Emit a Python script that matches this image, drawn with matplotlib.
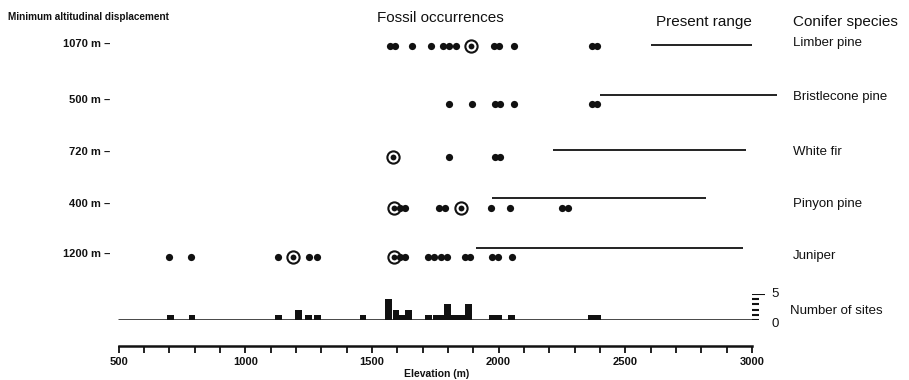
import matplotlib
matplotlib.use('Agg')
import matplotlib.pyplot as plt

plt.rcParams['font.family'] = ['Liberation Sans', 'DejaVu Sans']

# fossil occurrences (elevation, m) per conifer species
species = ['Limber pine', 'Bristlecone pine', 'White fir', 'Pinyon pine', 'Juniper']
displacement = ['1070 m', '500 m', '720 m', '400 m', '1200 m']

limber = [1570, 1590, 1660, 1735, 1780, 1805, 1830, 1980, 2000, 2060, 2370, 2390]
limber_circled = [1890]
bristlecone = [1805, 1895, 1985, 2005, 2060, 2370, 2390]
bristlecone_circled = []
white_fir = [1805, 1985, 2005]
white_fir_circled = [1585]
pinyon = [1610, 1630, 1765, 1790, 1970, 2045, 2250, 2272]
pinyon_circled = [1587, 1852]
juniper = [700, 785, 1130, 1250, 1283, 1610, 1630, 1720, 1746, 1773, 1797, 1866, 1889, 1974, 1998, 2053]
juniper_circled = [1187, 1587]

# present range (low, high) per species
range_low = [2600, 2400, 2215, 1975, 1910]
range_high = [3000, 3100, 2975, 2820, 2965]

# number of sites per elevation bin
site_bins = [705, 790, 1130, 1210, 1250, 1285, 1465, 1565, 1595, 1617, 1645,
             1725, 1755, 1775, 1798, 1825, 1855, 1882, 1975, 2000, 2050, 2365, 2390]
site_counts = [1, 1, 1, 2, 1, 1, 1, 4, 2, 1, 2,
               1, 1, 1, 3, 1, 1, 3, 1, 1, 1, 1, 1]
scale_ticks = [0, 1, 2, 3, 4, 5]

W, H = 909, 380
x500, x3000 = 118.5, 752.0
k = (x3000 - x500) / 2500
xmin = 500 - x500 / k
xmax = 500 + (W - x500) / k

ink = '#111111'


def fx(x):
    return x / W


def fy(y):
    return 1 - y / H


fig = plt.figure(figsize=(9.09, 3.8), dpi=100)
ax = fig.add_axes([0, 0, 1, 1])
ax.set_xlim(xmin, xmax)
ax.set_ylim(H, 0)
ax.axis('off')

rows = [(limber, limber_circled), (bristlecone, bristlecone_circled),
        (white_fir, white_fir_circled), (pinyon, pinyon_circled),
        (juniper, juniper_circled)]
row_y = [46, 104, 157, 208, 257]
range_y = [45, 95, 150, 198, 248]
label_y = [43, 97, 152, 204, 256]
disp_y = [44, 100, 152, 204, 254]

for i, (dots, circ) in enumerate(rows):
    y = row_y[i]
    if circ:
        ax.plot(circ, [y] * len(circ), 'o', ms=8.8, mfc='white', mec=ink, mew=1.5)
        ax.plot(circ, [y] * len(circ), 'o', ms=4.2, color=ink, mec='none')
    ax.plot(dots, [y] * len(dots), 'o', ms=5.2, color=ink, mec='none')
    ax.plot([range_low[i], range_high[i]], [range_y[i]] * 2, color=ink, lw=1.3,
            solid_capstyle='butt')
    fig.text(fx(793), fy(label_y[i]), species[i], fontsize=9.5, color=ink,
             va='center', ha='left')
    fig.text(fx(110), fy(disp_y[i]), displacement[i] + ' \u2013', fontsize=8,
             fontweight='bold', color=ink, va='center', ha='right')

# headers
fig.text(fx(8), fy(17), 'Minimum altitudinal displacement', fontsize=7.2,
         fontweight='bold', color=ink, va='center', ha='left')
fig.text(fx(440), fy(18), 'Fossil occurrences', fontsize=11, color=ink,
         va='center', ha='center')
fig.text(fx(704), fy(22), 'Present range', fontsize=11, color=ink,
         va='center', ha='center')
fig.text(fx(793), fy(22), 'Conifer species', fontsize=11, color=ink,
         va='center', ha='left')

# number of sites histogram
base_y = 320
unit = 5.2
axh = fig.add_axes([0, fy(base_y), 1, 5 * unit / H])
axh.set_xlim(xmin, xmax)
axh.set_ylim(0, 5)
axh.axis('off')
axh.bar(site_bins, site_counts, width=27, color=ink, align='center')
axh.hlines(0, 500, 3000, color=ink, lw=1.8)
axh.hlines(scale_ticks[:-1], 3000, 3028, color=ink, lw=1.5)
axh.hlines(scale_ticks[-1:], 3000, 3050, color=ink, lw=1.5)
fig.text(fx(771), fy(base_y - 5 * unit), '5', fontsize=9.5, color=ink,
         va='center', ha='left')
fig.text(fx(771), fy(base_y + 4), '0', fontsize=9.5, color=ink,
         va='center', ha='left')
fig.text(fx(790), fy(311), 'Number of sites', fontsize=9.5, color=ink,
         va='center', ha='left')

# elevation axis
axe = fig.add_axes([fx(x500), fy(346), (x3000 - x500) / W, 0.0001])
axe.set_xlim(500, 3000)
for s in ['left', 'right', 'top']:
    axe.spines[s].set_visible(False)
axe.spines['bottom'].set_linewidth(1.8)
axe.spines['bottom'].set_color(ink)
axe.set_yticks([])
axe.set_xticks(range(500, 3001, 500))
axe.set_xticks(range(500, 3001, 100), minor=True)
axe.tick_params(axis='x', which='both', length=5, width=1.3, color=ink,
                direction='out', pad=3)
axe.set_xticklabels([str(v) for v in range(500, 3001, 500)], fontsize=8,
                    fontweight='bold', color=ink)
fig.text(fx(437), fy(374), 'Elevation (m)', fontsize=7.5, fontweight='bold',
         color=ink, va='center', ha='center')

fig.savefig('out.png', dpi=100, facecolor='white')
